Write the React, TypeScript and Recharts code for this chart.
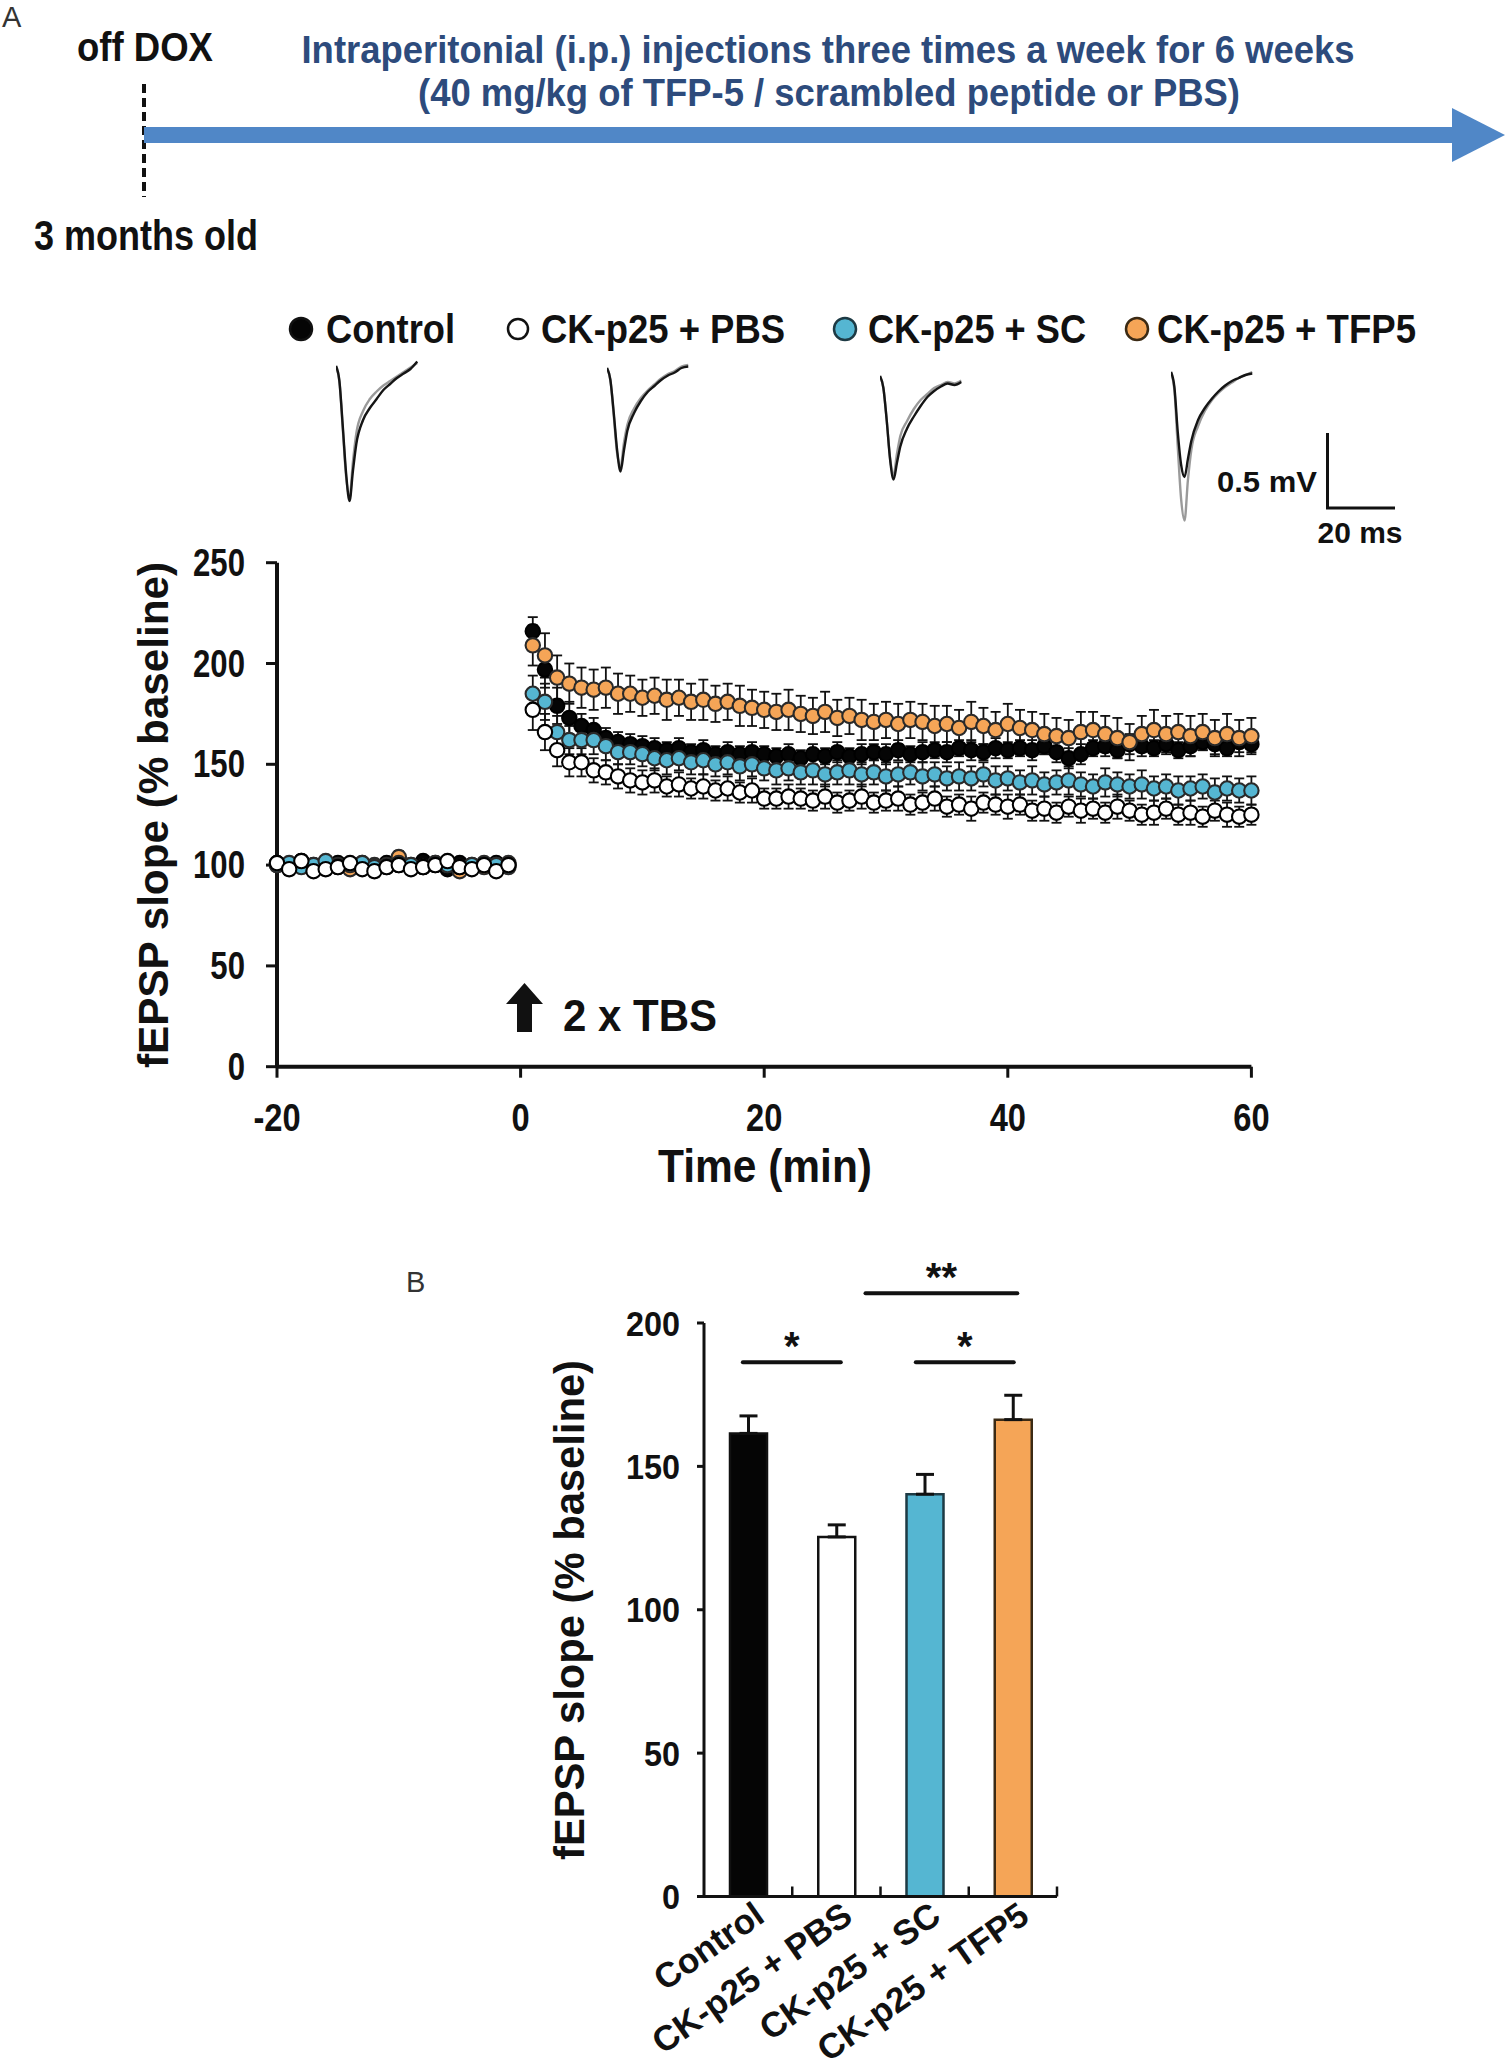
import React from 'react';
import {
  ScatterChart, Scatter, XAxis, YAxis, ErrorBar, Legend, Label,
  BarChart, Bar, Cell, LabelList, ReferenceLine, LineChart, Line,
} from 'recharts';

const FONT = '"Liberation Sans", Arial, Helvetica, sans-serif';
const INK = '#111111';

// ---------------- Panel A : fEPSP time course ----------------
const timeMin = [
  -20, -19, -18, -17, -16, -15, -14, -13, -12, -11, -10, -9, -8, -7, -6, -5, -4, -3, -2, -1,
  1, 2, 3, 4, 5, 6, 7, 8, 9, 10, 11, 12, 13, 14, 15, 16, 17, 18, 19, 20,
  21, 22, 23, 24, 25, 26, 27, 28, 29, 30, 31, 32, 33, 34, 35, 36, 37, 38, 39, 40,
  41, 42, 43, 44, 45, 46, 47, 48, 49, 50, 51, 52, 53, 54, 55, 56, 57, 58, 59, 60,
];

const controlVals = [
  101, 99, 102, 98, 100, 101, 99, 100, 98, 101, 100, 99, 102, 100, 98, 101, 99, 100, 101, 100,
  216, 197, 179, 173, 169, 167, 163, 161, 160, 159, 158, 157, 158, 156, 157, 155, 156, 155, 156, 155,
  154, 155, 153, 155, 154, 156, 154, 155, 156, 155, 157, 155, 156, 157, 156, 158, 157, 156, 158, 157,
  158, 157, 159, 156, 153, 155, 158, 159, 157, 160, 159, 158, 160, 157, 159, 161, 160, 158, 161, 160,
];
const controlErr = [
  2, 2, 3, 2, 2, 2, 3, 2, 2, 2, 2, 3, 2, 2, 2, 2, 3, 2, 2, 2,
  7, 9, 9, 8, 6, 6, 5, 5, 5, 5, 5, 4, 5, 4, 5, 4, 5, 4, 5, 4,
  4, 5, 4, 5, 4, 5, 4, 5, 4, 5, 5, 4, 5, 4, 5, 4, 5, 4, 5, 4,
  4, 5, 4, 5, 5, 5, 4, 5, 4, 5, 5, 4, 5, 4, 5, 4, 5, 4, 5, 4,
];

const pbsVals = [
  101, 98, 102, 97, 98, 99, 101, 98, 97, 99, 100, 98, 99, 100, 102, 99, 98, 100, 97, 100,
  177, 166, 157, 151, 151, 147, 146, 144, 142, 141, 142, 139, 140, 138, 139, 137, 138, 136, 137, 133,
  133, 134, 133, 132, 134, 131, 132, 134, 131, 132, 133, 130, 131, 133, 129, 130, 128, 131, 130, 129,
  130, 127, 128, 126, 129, 127, 128, 126, 129, 127, 125, 126, 128, 125, 126, 124, 127, 125, 124, 125,
];
const pbsErr = [
  2, 3, 2, 2, 3, 2, 2, 2, 3, 2, 2, 2, 2, 3, 2, 2, 2, 3, 2, 2,
  10, 9, 8, 7, 7, 6, 6, 6, 6, 6, 6, 5, 6, 5, 6, 5, 6, 5, 6, 5,
  5, 6, 5, 5, 6, 5, 5, 6, 5, 5, 6, 5, 5, 6, 5, 5, 6, 5, 5, 6,
  5, 5, 6, 5, 5, 6, 5, 5, 6, 5, 5, 6, 5, 5, 6, 5, 5, 6, 5, 5,
];

const scVals = [
  100, 101, 99, 100, 102, 99, 100, 101, 99, 100, 101, 100, 99, 101, 100, 99, 100, 101, 100, 99,
  185, 181, 166, 162, 162, 162, 159, 156, 156, 155, 153, 152, 153, 151, 152, 150, 151, 149, 150, 148,
  147, 148, 146, 147, 145, 146, 147, 145, 146, 144, 145, 146, 144, 145, 143, 144, 143, 145, 142, 143,
  141, 142, 140, 141, 142, 140, 139, 141, 140, 139, 140, 138, 139, 137, 138, 139, 136, 138, 137, 137,
];
const scErr = [
  2, 2, 2, 3, 2, 2, 2, 2, 2, 3, 2, 2, 2, 2, 3, 2, 2, 2, 2, 2,
  9, 9, 8, 7, 7, 7, 7, 6, 6, 6, 6, 7, 6, 6, 7, 6, 6, 7, 6, 6,
  7, 6, 6, 7, 6, 6, 7, 6, 6, 7, 6, 6, 7, 6, 6, 7, 6, 6, 7, 6,
  6, 7, 6, 6, 7, 6, 6, 7, 6, 6, 7, 6, 6, 7, 6, 6, 7, 6, 6, 7,
];

const tfp5Vals = [
  100, 99, 101, 100, 99, 100, 98, 101, 100, 99, 104, 100, 99, 101, 100, 97, 100, 99, 100, 101,
  209, 204, 193, 190, 188, 187, 188, 185, 185, 183, 184, 182, 183, 181, 182, 180, 181, 179, 178, 177,
  176, 177, 175, 174, 176, 173, 174, 172, 171, 172, 170, 172, 171, 169, 170, 168, 171, 169, 167, 170,
  168, 167, 165, 164, 163, 166, 167, 165, 163, 161, 165, 167, 165, 166, 164, 166, 163, 165, 163, 164,
];
const tfp5Err = [
  2, 2, 2, 2, 3, 2, 2, 2, 2, 2, 3, 2, 2, 2, 2, 2, 3, 2, 2, 2,
  10, 11, 11, 10, 10, 10, 10, 10, 9, 9, 9, 10, 9, 9, 10, 9, 9, 10, 9, 9,
  9, 10, 9, 9, 10, 9, 9, 10, 9, 9, 10, 9, 9, 10, 9, 9, 10, 9, 9, 10,
  9, 9, 10, 9, 9, 10, 9, 9, 10, 9, 9, 10, 9, 9, 10, 9, 9, 10, 9, 9,
];

const xTicksA = [-20, 0, 20, 40, 60];
const yTicksA = [0, 50, 100, 150, 200, 250];

const groupNames = ['Control', 'CK-p25 + PBS', 'CK-p25 + SC', 'CK-p25 + TFP5'];
const groupFill = ['#050505', '#ffffff', '#55B6D2', '#F5A557'];
const groupStroke = ['#111111', '#111111', '#1d3a44', '#3b2a14'];

// ---------------- Representative traces (ms, mV) ----------------
const traceTimes = [0, 1, 2, 3, 4, 5, 6, 8, 10, 12, 14, 16, 18, 20, 22, 24];
const ctrlPre = [0, -0.1, -0.4, -0.72, -0.9, -0.7, -0.52, -0.36, -0.28, -0.22, -0.16, -0.12, -0.08, -0.05, -0.02, 0.03];
const ctrlPost = [0, -0.1, -0.42, -0.74, -0.88, -0.64, -0.45, -0.3, -0.22, -0.17, -0.13, -0.1, -0.07, -0.04, -0.01, 0.02];
const pbsPre = [0, -0.08, -0.3, -0.55, -0.69, -0.55, -0.42, -0.3, -0.22, -0.16, -0.12, -0.08, -0.05, -0.03, 0.0, 0.01];
const pbsPost = [0, -0.08, -0.32, -0.57, -0.66, -0.5, -0.38, -0.27, -0.2, -0.15, -0.11, -0.07, -0.04, -0.02, 0.01, 0.02];
const scPre = [0, -0.08, -0.3, -0.56, -0.69, -0.58, -0.47, -0.35, -0.27, -0.2, -0.14, -0.1, -0.07, -0.05, -0.06, -0.04];
const scPost = [0, -0.08, -0.3, -0.55, -0.66, -0.52, -0.4, -0.3, -0.22, -0.16, -0.12, -0.08, -0.06, -0.04, -0.05, -0.03];
const tfpPre = [0, -0.1, -0.4, -0.62, -0.7, -0.58, -0.46, -0.32, -0.24, -0.18, -0.13, -0.09, -0.06, -0.04, -0.02, -0.01];
const tfpPost = [0, -0.12, -0.5, -0.85, -0.99, -0.72, -0.52, -0.36, -0.26, -0.19, -0.14, -0.1, -0.07, -0.04, -0.02, 0.0];

// ---------------- Panel B : last 10 min average ----------------
const barMeans = [161.5, 125.4, 140.3, 166.3];
const barErrs = [6.1, 4.2, 6.9, 8.5];
const yTicksB = [0, 50, 100, 150, 200];
const groupEdges = [1, 2, 3, 4];
const sigBrackets = [
  { x1: 0.44, x2: 1.55, y: 186.3, text: '*' },
  { x1: 1.83, x2: 3.55, y: 210.4, text: '**' },
  { x1: 2.4, x2: 3.51, y: 186.3, text: '*' },
];

// ---------------- tables ----------------
const mk = (vals: number[], errs: number[]) => timeMin.map((t, i) => ({ t, v: vals[i], e: errs[i] }));
const controlData = mk(controlVals, controlErr);
const pbsData = mk(pbsVals, pbsErr);
const scData = mk(scVals, scErr);
const tfp5Data = mk(tfp5Vals, tfp5Err);

const mkTrace = (pre: number[], post: number[]) => traceTimes.map((t, i) => ({ t, pre: pre[i], post: post[i] }));
const traces = [
  { data: mkTrace(ctrlPre, ctrlPost), left: 336, base: 366 },
  { data: mkTrace(pbsPre, pbsPost), left: 607, base: 368 },
  { data: mkTrace(scPre, scPost), left: 880, base: 376 },
  { data: mkTrace(tfpPre, tfpPost), left: 1171, base: 372 },
];

const barData = groupNames.map((name, i) => ({ name, mean: barMeans[i], err: [0, barErrs[i]] }));
const edgeData = groupEdges.map((x) => ({ x, y: 0 }));

// ---------------- render helpers ----------------
const dot = (fill: string, stroke: string) => (p: any) => (
  <circle cx={p.cx} cy={p.cy} r={7.2} fill={fill} stroke={stroke} strokeWidth={2.1} />
);

const EdgeTick = (p: any) => (
  <line x1={p.cx} y1={p.cy} x2={p.cx} y2={p.cy - 10} stroke={INK} strokeWidth={2.5} />
);

const CText = (p: any) => (
  <text transform={`translate(${p.x},${p.y}) scale(${p.sx ?? 0.84},1)`} textAnchor={p.anchor ?? 'start'}
    dominantBaseline={p.baseline ?? 'auto'} fontSize={p.size} fontWeight="bold" fontFamily={FONT}
    fill={p.fill ?? INK}>{p.children}</text>
);

const TickAX = (p: any) => (
  <CText x={p.x} y={p.y + 38} anchor="middle" baseline="central" size={38} sx={0.86}>{p.payload.value}</CText>
);
const TickAY = (p: any) => (
  <CText x={p.x - 19} y={p.y} anchor="end" baseline="central" size={38} sx={0.82}>{p.payload.value}</CText>
);
const TickBY = (p: any) => (
  <CText x={p.x - 15} y={p.y} anchor="end" baseline="central" size={36} sx={0.9}>{p.payload.value}</CText>
);
const NoTick = () => <g />;

const BarName = (p: any) => {
  const cx = p.x + p.width / 2 + 18;
  const cy = p.y + p.height + 24;
  return (
    <text transform={`translate(${cx},${cy}) rotate(-35)`} textAnchor="end" fontSize={35}
      fontWeight="bold" fontFamily={FONT} fill={INK}>{p.value}</text>
  );
};

const SigLabel = (p: any) => {
  const vb = p.viewBox || { x: 0, y: 0, width: 0 };
  return (
    <text x={vb.x + vb.width / 2} y={vb.y - 2} textAnchor="middle" fontSize={40}
      fontWeight="bold" fontFamily={FONT} fill={INK}>{p.text}</text>
  );
};

const legendItems = [
  { cx: 301, tx: 326, r: 11, w: 129 },
  { cx: 518, tx: 541, r: 10, w: 244 },
  { cx: 845, tx: 868, r: 11, w: 218 },
  { cx: 1137, tx: 1157, r: 11, w: 259 },
];

const LegendA = () => (
  <svg width={1500} height={60} style={{ display: 'block' }}>
    {legendItems.map((it, i) => (
      <g key={i}>
        <circle cx={it.cx} cy={29} r={it.r} fill={groupFill[i]} stroke={groupStroke[i]} strokeWidth={2.5} />
        <text x={it.tx} y={43} fontSize={40} fontWeight="bold" fontFamily={FONT} fill={INK}
          textLength={it.w} lengthAdjust="spacingAndGlyphs">{groupNames[i]}</text>
      </g>
    ))}
  </svg>
);

const axisTxt = { fontFamily: FONT, fontWeight: 'bold' as const, fill: INK };

// Panel B chart sits 1200px down the page; its own SVG coordinates start there.
const PANEL_B_TOP = 1200;

export default function App() {
  return (
    <div style={{ position: 'absolute', left: 0, top: 0, width: 1507, height: 2070, background: '#fff', fontFamily: FONT }}>
      {/* Panel A main chart */}
      <div style={{ position: 'absolute', left: 0, top: 0 }}>
        <ScatterChart width={1300} height={1200} margin={{ top: 562.7, right: 48.6, bottom: 33.3, left: 177 }}>
          <XAxis type="number" dataKey="t" domain={[-20, 60]} ticks={xTicksA} height={100}
            axisLine={{ stroke: INK, strokeWidth: 4 }} tickLine={{ stroke: INK, strokeWidth: 3 }}
            tickSize={11} tick={<TickAX />} interval={0}>
            <Label content={() => (
              <text x={765} y={1182} textAnchor="middle" fontSize={46} textLength={214}
                lengthAdjust="spacingAndGlyphs" {...axisTxt}>Time (min)</text>
            )} />
          </XAxis>
          <YAxis type="number" dataKey="v" domain={[0, 250]} ticks={yTicksA} width={100}
            axisLine={{ stroke: INK, strokeWidth: 4 }} tickLine={{ stroke: INK, strokeWidth: 3 }}
            tickSize={11} tick={<TickAY />} interval={0}>
            <Label content={() => (
              <text transform="translate(168,815) rotate(-90)" textAnchor="middle" fontSize={43}
                textLength={506} lengthAdjust="spacingAndGlyphs" {...axisTxt}>fEPSP slope (% baseline)</text>
            )} />
          </YAxis>
          <Legend layout="horizontal" align="center" verticalAlign="middle" content={<LegendA />}
            wrapperStyle={{ position: 'absolute', left: 0, top: 300, width: 1500, height: 60 }} />
          <Scatter name="Control" data={controlData} shape={dot(groupFill[0], '#000')} isAnimationActive={false}>
            <ErrorBar dataKey="e" direction="y" width={5} stroke={INK} strokeWidth={1.8} />
          </Scatter>
          <Scatter name="CK-p25 + TFP5" data={tfp5Data} shape={dot(groupFill[3], '#2a2a2a')} isAnimationActive={false}>
            <ErrorBar dataKey="e" direction="y" width={5} stroke={INK} strokeWidth={1.8} />
          </Scatter>
          <Scatter name="CK-p25 + SC" data={scData} shape={dot(groupFill[2], '#2a2a2a')} isAnimationActive={false}>
            <ErrorBar dataKey="e" direction="y" width={5} stroke={INK} strokeWidth={1.8} />
          </Scatter>
          <Scatter name="CK-p25 + PBS" data={pbsData} shape={dot(groupFill[1], '#000')} isAnimationActive={false}>
            <ErrorBar dataKey="e" direction="y" width={5} stroke={INK} strokeWidth={1.8} />
          </Scatter>
        </ScatterChart>
      </div>

      {/* Representative fEPSP traces */}
      {traces.map((tr, i) => (
        <div key={i} style={{ position: 'absolute', left: tr.left, top: tr.base - 30 }}>
          <LineChart width={88} height={195} data={tr.data} margin={{ top: 0, right: 0, bottom: 0, left: 0 }}>
            <XAxis type="number" dataKey="t" domain={[0, 26]} hide />
            <YAxis type="number" domain={[-1.1, 0.2]} hide />
            <Line type="monotone" dataKey="post" stroke="#9a9a9a" strokeWidth={2.4} dot={false} isAnimationActive={false} />
            <Line type="monotone" dataKey="pre" stroke="#151515" strokeWidth={2.4} dot={false} isAnimationActive={false} />
          </LineChart>
        </div>
      ))}

      {/* Panel B bar chart */}
      <div style={{ position: 'absolute', left: 0, top: PANEL_B_TOP }}>
        <BarChart width={1200} height={870} data={barData} margin={{ top: 123, right: 143, bottom: 173.5, left: 604 }}>
          <XAxis xAxisId="cat" dataKey="name" type="category" hide />
          <YAxis type="number" domain={[0, 200]} ticks={yTicksB} width={100} interval={0}
            axisLine={{ stroke: INK, strokeWidth: 3 }} tickLine={{ stroke: INK, strokeWidth: 3 }}
            tickSize={7} tick={<TickBY />}>
            <Label content={() => (
              <text transform={`translate(584,${1610 - PANEL_B_TOP}) rotate(-90)`} textAnchor="middle" fontSize={43}
                textLength={500} lengthAdjust="spacingAndGlyphs" {...axisTxt}>fEPSP slope (% baseline)</text>
            )} />
          </YAxis>
          <Bar xAxisId="cat" dataKey="mean" barSize={37} strokeWidth={2.5} isAnimationActive={false}>
            {barData.map((d, i) => (
              <Cell key={d.name} fill={groupFill[i]} stroke={groupStroke[i]} />
            ))}
            <ErrorBar dataKey="err" direction="y" width={9} stroke={INK} strokeWidth={3} />
            <LabelList dataKey="name" content={<BarName />} />
          </Bar>
        </BarChart>
      </div>

      {/* Panel B group axis (boundary ticks) and significance brackets */}
      <div style={{ position: 'absolute', left: 0, top: PANEL_B_TOP }}>
        <ScatterChart width={1200} height={870} margin={{ top: 123, right: 143, bottom: 143.5, left: 704 }}>
          <XAxis type="number" dataKey="x" domain={[0, 4]} ticks={groupEdges} height={30}
            tickLine={false} tick={<NoTick />} interval={0}
            axisLine={{ stroke: INK, strokeWidth: 3 }} />
          <YAxis type="number" dataKey="y" domain={[0, 200]} hide />
          <Scatter data={edgeData} shape={<EdgeTick />} isAnimationActive={false} />
          {sigBrackets.map((s, i) => (
            <ReferenceLine key={i} ifOverflow="visible"
              segment={[{ x: s.x1, y: s.y }, { x: s.x2, y: s.y }]}
              stroke={INK} strokeWidth={4} strokeLinecap="round"
              label={<SigLabel text={s.text} />} />
          ))}
        </ScatterChart>
      </div>

      {/* Annotations */}
      <svg width={1507} height={2070} style={{ position: 'absolute', left: 0, top: 0, pointerEvents: 'none' }}>
        <text x={2} y={27} fontSize={29} fontFamily={FONT} fill="#333">A</text>
        <text x={77} y={61} fontSize={40} fontWeight="bold" fontFamily={FONT} fill={INK}
          textLength={136} lengthAdjust="spacingAndGlyphs">off DOX</text>
        <line x1={144} y1={84} x2={144} y2={197} stroke={INK} strokeWidth={4} strokeDasharray="9 5" />
        <rect x={144} y={127} width={1311} height={16} fill="#5087C7" />
        <polygon points="1452,108 1505,135 1452,162" fill="#5087C7" />
        <text x={828} y={63} textAnchor="middle" fontSize={38} fontWeight="bold" fontFamily={FONT} fill="#2D4B7C"
          textLength={1053} lengthAdjust="spacingAndGlyphs">Intraperitonial (i.p.) injections three times a week for 6 weeks</text>
        <text x={829} y={106} textAnchor="middle" fontSize={38} fontWeight="bold" fontFamily={FONT} fill="#2D4B7C"
          textLength={822} lengthAdjust="spacingAndGlyphs">(40 mg/kg of TFP-5 / scrambled peptide or PBS)</text>
        <text x={34} y={250} fontSize={42} fontWeight="bold" fontFamily={FONT} fill={INK}
          textLength={224} lengthAdjust="spacingAndGlyphs">3 months old</text>

        {/* scale bar */}
        <polyline points="1327.5,433 1327.5,508 1395,508" fill="none" stroke={INK} strokeWidth={3} />
        <text x={1317} y={492} textAnchor="end" fontSize={29} fontWeight="bold" fontFamily={FONT} fill={INK}
          textLength={100} lengthAdjust="spacingAndGlyphs">0.5 mV</text>
        <text x={1360} y={543} textAnchor="middle" fontSize={29} fontWeight="bold" fontFamily={FONT} fill={INK}
          textLength={85} lengthAdjust="spacingAndGlyphs">20 ms</text>

        {/* 2 x TBS */}
        <polygon points="524.5,983 543,1004 532,1004 532,1032 517,1032 517,1004 506,1004" fill={INK} />
        <text x={563} y={1031} fontSize={44} fontWeight="bold" fontFamily={FONT} fill={INK}
          textLength={154} lengthAdjust="spacingAndGlyphs">2 x TBS</text>

        <text x={406} y={1292} fontSize={29} fontFamily={FONT} fill="#333">B</text>
      </svg>
    </div>
  );
}
